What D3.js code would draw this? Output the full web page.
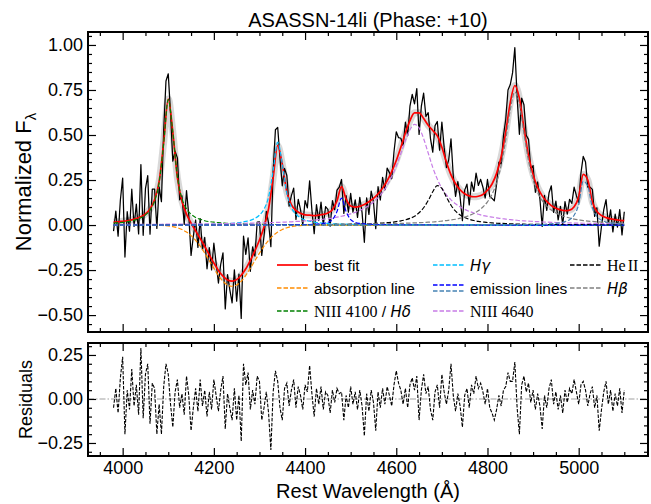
<!DOCTYPE html>
<html><head><meta charset="utf-8">
<script src="https://cdn.jsdelivr.net/npm/d3@7"></script>
<style>
body{margin:0;background:#fff}
svg{display:block}
text{font-family:"Liberation Sans",Arial,Helvetica,sans-serif;fill:#000}
</style>
</head><body>
<svg id="c" width="651" height="504"></svg>
<script>
// ---------------- DATA ----------------
const chartTitle = "ASASSN-14li (Phase: +10)";
const xTickLabels = [4000, 4200, 4400, 4600, 4800, 5000];
const yTickLabels = [-0.50, -0.25, 0.00, 0.25, 0.50, 0.75, 1.00];
const resTickLabels = [-0.25, 0.00, 0.25];

// model grid: 3980..5100 Å every 10 Å
const modelWave = d3.range(3980, 5101, 10);
// observed grid: 3980..5100 Å every 5 Å
const obsWave = d3.range(3980, 5101, 5);

const bestFit = [
 .016,.018,.021,.024,.029,.036,.046,.062,.089,.140,
 .242,.460,.700,.515,.263,.132,.061,.011,-.032,-.075,
 -.119,-.166,-.211,-.252,-.284,-.305,-.312,-.303,-.279,-.243,
 -.196,-.143,-.083,-.011,.091,.263,.442,.338,.185,.113,
 .081,.065,.056,.055,.052,.055,.059,.067,.085,.134,
 .213,.144,.106,.100,.104,.114,.129,.148,.173,.205,
 .246,.297,.358,.432,.511,.580,.623,.623,.592,.554,
 .525,.495,.432,.349,.279,.229,.195,.174,.162,.157,
 .160,.170,.193,.228,.287,.379,.516,.680,.775,.704,
 .538,.386,.280,.209,.162,.131,.108,.093,.084,.080,
 .083,.101,.156,.281,.250,.128,.076,.053,.041,.034,
 .030,.026,.024];

const absorptionLine = [
 0,0,0,0,0,0,0,0,0,-.001,
 -.001,-.003,-.005,-.009,-.015,-.025,-.039,-.059,-.085,-.117,
 -.156,-.198,-.240,-.280,-.312,-.333,-.340,-.333,-.312,-.280,
 -.240,-.198,-.156,-.117,-.085,-.059,-.039,-.025,-.015,-.009,
 -.005,-.003,-.001,-.001,0,0,0,0,0,0,
 0,0,0,0,0,0,0,0,0,0,
 0,0,0,0,0,0,0,0,0,0,
 0,0,0,0,0,0,0,0,0,0,
 0,0,0,0,0,0,0,0,0,0,
 0,0,0,0,0,0,0,0,0,0,
 0,0,0,0,0,0,0,0,0,0,
 0,0,0];

const nIII4100 = [
 .011,.013,.015,.019,.023,.030,.040,.056,.083,.133,
 .236,.455,.697,.515,.269,.148,.090,.060,.042,.032,
 .024,.019,.016,.013,.011,.009,.008,.007,.006,.006,
 .005,.004,.004,.004,.003,.003,.003,.003,.002,.002,
 .002,.002,.002,.002,.002,.002,.002,.001,.001,.001,
 .001,.001,.001,.001,.001,.001,.001,.001,.001,.001,
 .001,.001,.001,.001,.001,.001,.001,.001,.001,.001,
 .001,.001,.001,.001,.001,.001,.001,.001,.001,.001,
 .001,.001,.001,.001,.001,0,0,0,0,0,
 0,0,0,0,0,0,0,0,0,0,
 0,0,0,0,0,0,0,0,0,0,
 0,0,0];

const hGamma = [
 .001,.001,.001,.001,.001,.001,.001,.001,.001,.001,
 .002,.002,.002,.002,.002,.002,.002,.003,.003,.003,
 .004,.004,.005,.006,.007,.008,.010,.012,.015,.020,
 .026,.037,.055,.088,.156,.301,.460,.340,.177,.098,
 .060,.040,.028,.021,.016,.013,.010,.009,.007,.006,
 .005,.005,.004,.004,.003,.003,.003,.003,.002,.002,
 .002,.002,.001,.001,.001,.001,.001,.001,.001,.001,
 .001,.001,.001,.001,.001,.001,.001,.001,.001,.001,
 0,0,0,0,0,0,0,0,0,0,
 0,0,0,0,0,0,0,0,0,0,
 0,0,0,0,0,0,0,0,0,0,
 0,0,0];

const emissionBlue = [
 0,0,0,0,0,0,0,0,0,0,
 0,0,0,0,0,0,0,0,0,0,
 0,0,0,0,0,0,0,0,0,0,
 0,0,0,0,.001,.001,.001,.001,.002,.002,
 .002,.002,.003,.003,.004,.006,.009,.015,.030,.075,
 .150,.075,.030,.015,.009,.006,.004,.003,.002,.002,
 .002,.001,.001,.001,.001,.001,.001,.001,.001,.001,
 0,0,0,0,0,0,0,0,0,0,
 0,0,0,0,0,0,0,0,0,0,
 0,0,0,0,0,0,0,0,0,0,
 0,0,0,0,0,0,0,0,0,0,
 0,0,0];

const emissionSteel = [
 0,0,0,0,0,0,0,0,0,0,
 0,0,0,0,0,0,0,0,0,0,
 0,0,0,0,0,0,0,0,0,0,
 0,0,0,0,0,0,0,0,0,0,
 0,0,0,0,0,0,0,0,0,0,
 0,0,0,0,0,0,0,0,0,0,
 0,0,0,0,0,0,0,0,0,0,
 0,0,0,0,0,0,0,0,0,0,
 .001,.001,.001,.001,.001,.001,.001,.002,.002,.002,
 .002,.003,.003,.004,.004,.005,.007,.009,.013,.019,
 .030,.054,.114,.243,.216,.097,.047,.027,.017,.012,
 .009,.007,.005];

const nIII4640 = [
 .003,.003,.003,.004,.004,.004,.004,.004,.004,.004,
 .004,.005,.005,.005,.005,.005,.005,.006,.006,.006,
 .007,.007,.007,.007,.008,.008,.009,.009,.010,.010,
 .011,.011,.012,.012,.013,.014,.015,.016,.017,.018,
 .020,.021,.023,.025,.027,.030,.032,.036,.039,.044,
 .049,.055,.062,.070,.081,.093,.109,.128,.152,.182,
 .221,.269,.328,.397,.469,.529,.559,.540,.480,.400,
 .320,.255,.205,.168,.140,.118,.100,.087,.076,.067,
 .060,.053,.048,.044,.040,.036,.033,.030,.028,.025,
 .023,.022,.020,.019,.017,.016,.015,.014,.013,.013,
 .012,.011,.011,.010,.010,.009,.009,.008,.008,.008,
 .007,.007,.007];

const heII = [
 0,0,0,0,0,0,0,0,0,0,
 0,0,0,0,0,0,0,0,0,0,
 0,0,0,0,0,0,0,0,0,0,
 0,0,.001,.001,.001,.001,.001,.001,.001,.001,
 .002,.002,.002,.002,.002,.002,.003,.003,.003,.004,
 .004,.004,.005,.005,.006,.006,.007,.008,.010,.011,
 .013,.015,.019,.023,.029,.037,.049,.068,.096,.136,
 .185,.219,.203,.155,.110,.077,.056,.042,.032,.025,
 .020,.017,.014,.012,.010,.009,.008,.007,.006,.005,
 .005,.004,.004,.004,.003,.003,.003,.003,.002,.002,
 .002,.002,.002,.002,.002,.002,.001,.001,.001,.001,
 .001,.001,.001];

const hBeta = [
 .001,.001,.001,.001,.001,.001,.001,.001,.001,.001,
 .001,.001,.001,.001,.001,.001,.001,.001,.001,.001,
 .001,.001,.001,.001,.001,.001,.001,.001,.002,.002,
 .002,.002,.002,.002,.002,.002,.002,.002,.002,.003,
 .003,.003,.003,.003,.003,.003,.003,.003,.004,.004,
 .004,.004,.004,.005,.005,.005,.006,.006,.006,.007,
 .007,.008,.008,.009,.010,.011,.012,.013,.014,.016,
 .017,.019,.022,.025,.028,.032,.038,.044,.053,.064,
 .079,.100,.129,.171,.236,.332,.474,.641,.739,.671,
 .507,.357,.252,.182,.136,.105,.083,.067,.055,.046,
 .039,.033,.029,.025,.022,.020,.018,.016,.014,.013,
 .012,.011,.010];

const observedFlux = [
 -.034,.077,-.062,.139,.261,-.178,.074,-.034,.199,-.008,.116,-.049,.336,-.057,.202,.274,-.051,.200,.200,-.019,
 .212,.130,.530,.800,.840,.620,.355,.410,.373,.140,.162,.003,.191,.055,-.169,-.061,.028,-.124,.035,-.137,
 -.069,-.243,-.126,-.249,-.101,-.212,-.322,-.219,-.154,-.466,-.275,-.360,-.432,-.249,-.423,-.272,-.519,-.062,-.163,-.071,
 -.257,-.121,-.173,.016,.017,-.169,-.061,.076,.011,-.120,.303,.529,.542,.370,.218,.315,.275,.105,.163,.205,
 .031,.142,.085,.000,.136,.095,.245,.083,-.048,.113,.025,.127,-.001,.102,.087,-.006,.135,.085,.194,.210,
 .253,.065,.164,.072,.176,.072,.140,.042,.154,.069,-.096,.151,.059,.188,.128,-.020,.213,.139,.265,.195,
 .316,.291,.257,.407,.518,.485,.482,.442,.571,.497,.660,.725,.673,.758,.503,.660,.732,.603,.624,.480,
 .405,.552,.575,.416,.572,.431,.319,.362,.479,.272,.159,.241,.155,.024,.194,.227,.112,.239,.187,.288,
 .220,.254,.210,.150,.253,.159,.148,.135,.227,.350,.339,.495,.586,.750,.780,.845,.985,.710,.504,.705,
 .668,.498,.476,.310,.330,.182,.239,.144,-.008,.165,.081,.179,.218,.070,.133,.028,.104,.001,.130,.061,
 .143,.120,.211,.163,.126,.290,.381,.350,.210,.210,.198,.048,.096,-.117,-.007,.086,.141,.007,.084,-.038,
 .060,-.012,.086,-.055,.074];

const residuals = [
 -.05,.06,-.08,.12,.24,-.20,.05,-.06,.17,-.04,.08,-.09,.29,-.11,.14,.20,-.14,.09,.06,-.20,
 -.03,-.20,.07,.20,.14,-.03,-.16,.04,.11,-.05,.03,-.09,.13,.02,-.18,-.05,.06,-.07,.11,-.04,
 .05,-.10,.04,-.06,.11,.02,-.07,.05,.13,-.17,.03,-.05,-.12,.06,-.12,.02,-.24,.20,.08,.15,
 -.06,.05,-.03,.13,.10,-.12,-.05,.04,-.08,-.29,.04,.16,.10,-.05,-.12,.06,.09,-.04,.05,.11,
 -.05,.07,.02,-.06,.08,.04,.19,.03,-.10,.06,-.03,.07,-.06,.04,.02,-.08,.05,-.02,.06,.03,
 .04,-.12,.02,-.05,.07,-.03,.04,-.06,.05,-.04,-.21,.03,-.07,.05,-.02,-.18,.04,-.05,.06,-.03,
 .07,.02,-.04,.08,.16,.09,.05,-.03,.06,-.05,.08,.12,.05,.13,-.12,.05,.14,.03,.07,-.06,
 -.12,.04,.08,-.05,.14,.04,-.03,.05,.20,.02,-.07,.03,-.04,-.16,.02,.06,-.05,.08,.03,.13,
 .06,.09,.04,-.03,.06,-.05,-.08,-.12,-.06,.02,-.04,.05,.07,.15,.10,.10,.21,-.05,-.20,.08,
 .13,.04,.09,-.02,.05,-.06,.03,-.04,-.17,.02,-.05,.06,.11,-.03,.04,-.06,.02,-.08,.05,-.02,
 .06,.03,.11,.04,-.03,.08,.10,.05,-.04,.03,.07,-.05,.02,-.18,-.06,.04,.10,-.03,.05,-.07,
 .03,-.04,.06,-.08,.05];

// ---------------- DRAWING ----------------
const svg = d3.select("#c");
const L = 88, R = 648, T1 = 32, B1 = 332, T2 = 343, B2 = 456;
const x = d3.scaleLinear().domain([3924, 5152]).range([L, R]);
const y = d3.scaleLinear().domain([-0.594, 1.072]).range([B1, T1]);
const yr = d3.scaleLinear().domain([-0.324, 0.318]).range([B2, T2]);

const defs = svg.append("defs");
defs.append("clipPath").attr("id","clipMain").append("rect")
  .attr("x",L).attr("y",T1).attr("width",R-L).attr("height",B1-T1);
defs.append("clipPath").attr("id","clipRes").append("rect")
  .attr("x",L).attr("y",T2).attr("width",R-L).attr("height",B2-T2);

const main = svg.append("g").attr("clip-path","url(#clipMain)");
const res = svg.append("g").attr("clip-path","url(#clipRes)");

const modelLine = d3.line().x((d,i)=>x(modelWave[i])).y(d=>y(d)).curve(d3.curveMonotoneX);
const obsLine = d3.line().x((d,i)=>x(obsWave[i])).y(d=>y(d));
const resLine = d3.line().x((d,i)=>x(obsWave[i])).y(d=>yr(d));

// posterior band
main.append("path").attr("d", modelLine(bestFit)).attr("fill","none")
  .attr("stroke","#b8b8b8").attr("stroke-opacity",0.55).attr("stroke-width",7)
  .attr("stroke-linejoin","round");
// observed spectrum
main.append("path").attr("d", obsLine(observedFlux)).attr("fill","none")
  .attr("stroke","#000").attr("stroke-width",1.25).attr("stroke-linejoin","round");
// best fit
main.append("path").attr("d", modelLine(bestFit)).attr("fill","none")
  .attr("stroke","#ff0000").attr("stroke-width",1.7);

const comps = [
  {data: absorptionLine, color: "#ff8c00"},
  {data: nIII4100, color: "#008000"},
  {data: hGamma, color: "#00bfff"},
  {data: nIII4640, color: "#c77ce6"},
  {data: heII, color: "#000000"},
  {data: hBeta, color: "#808080"},
  {data: emissionBlue, color: "#0000ff"},
  {data: emissionSteel, color: "#4682b4"}
];
comps.forEach(c => {
  main.append("path").attr("d", modelLine(c.data)).attr("fill","none")
    .attr("stroke", c.color).attr("stroke-width",1.2).attr("stroke-dasharray","4.5,2");
});

// residual panel
res.append("line").attr("x1",L).attr("x2",R).attr("y1",yr(0)).attr("y2",yr(0))
  .attr("stroke","#a0a0a0").attr("stroke-width",1.1).attr("stroke-dasharray","6,2,1.5,2");
res.append("path").attr("d", resLine(residuals)).attr("fill","none")
  .attr("stroke","#000").attr("stroke-width",1.1).attr("stroke-dasharray","3.5,1.5");

// axes helpers
const fmt = d => (d < 0 ? "\u2212" : "") + Math.abs(d).toFixed(2);
const xMinor = d3.range(3950, 5151, 50).filter(v => v % 200 !== 0);
const yMinor = d3.range(-55, 106, 5).filter(v => v % 25 !== 0).map(v => v/100);
const rMinor = d3.range(-30, 31, 5).filter(v => v % 25 !== 0).map(v => v/100);

function styleAxis(g, fs){
  g.select(".domain").remove();
  g.selectAll(".tick line").attr("stroke","#000").attr("stroke-width",1.2);
  g.selectAll("text").attr("font-size",fs).attr("font-family",'"Liberation Sans",Arial,sans-serif').attr("fill","#000");
}
function panelAxes(ys, top, bottom, majors, minors, showX){
  // bottom
  let g = svg.append("g").attr("transform",`translate(0,${bottom})`)
    .call(d3.axisBottom(x).tickValues(xMinor).tickSize(-4).tickFormat(""));
  styleAxis(g, 18);
  g = svg.append("g").attr("transform",`translate(0,${bottom})`)
    .call(d3.axisBottom(x).tickValues(xTickLabels).tickSize(-8).tickPadding(5)
      .tickFormat(showX ? d3.format("d") : ""));
  styleAxis(g, 18);
  // top
  g = svg.append("g").attr("transform",`translate(0,${top})`)
    .call(d3.axisTop(x).tickValues(xMinor).tickSize(-4).tickFormat(""));
  styleAxis(g, 18);
  g = svg.append("g").attr("transform",`translate(0,${top})`)
    .call(d3.axisTop(x).tickValues(xTickLabels).tickSize(-8).tickFormat(""));
  styleAxis(g, 18);
  // left
  g = svg.append("g").attr("transform",`translate(${L},0)`)
    .call(d3.axisLeft(ys).tickValues(minors).tickSize(-4).tickFormat(""));
  styleAxis(g, 18);
  g = svg.append("g").attr("transform",`translate(${L},0)`)
    .call(d3.axisLeft(ys).tickValues(majors).tickSize(-8).tickPadding(5).tickFormat(fmt));
  styleAxis(g, 18);
  // right
  g = svg.append("g").attr("transform",`translate(${R},0)`)
    .call(d3.axisRight(ys).tickValues(minors).tickSize(-4).tickFormat(""));
  styleAxis(g, 18);
  g = svg.append("g").attr("transform",`translate(${R},0)`)
    .call(d3.axisRight(ys).tickValues(majors).tickSize(-8).tickFormat(""));
  styleAxis(g, 18);
  // frame
  svg.append("rect").attr("x",L).attr("y",top).attr("width",R-L).attr("height",bottom-top)
    .attr("fill","none").attr("stroke","#000").attr("stroke-width",2);
}
panelAxes(y, T1, B1, yTickLabels, yMinor, false);
panelAxes(yr, T2, B2, resTickLabels, rMinor, true);

// titles & labels
svg.append("text").attr("x",(L+R)/2).attr("y",27).attr("text-anchor","middle")
  .attr("font-size",20).text(chartTitle);
svg.append("text").attr("x",(L+R)/2).attr("y",498).attr("text-anchor","middle")
  .attr("font-size",20).text("Rest Wavelength (\u00C5)");
const yl = svg.append("text").attr("transform","translate(31,182) rotate(-90)")
  .attr("text-anchor","middle").attr("font-size",22);
yl.append("tspan").text("Normalized F");
yl.append("tspan").attr("font-size",15).attr("dy",5).text("\u03BB");
svg.append("text").attr("transform",`translate(32,${(T2+B2)/2}) rotate(-90)`)
  .attr("text-anchor","middle").attr("font-size",18).text("Residuals");

// legend
const legendLabels = [
  {col:0,row:0,color:"#ff0000",solid:true,parts:[["best fit","sans",""]]},
  {col:0,row:1,color:"#ff8c00",parts:[["absorption line","sans",""]]},
  {col:0,row:2,color:"#008000",parts:[["NIII 4100","serif",""],[" / ","sans",""],["H\u03B4","sansI",""]]},
  {col:1,row:0,color:"#00bfff",parts:[["H\u03B3","sansI",""]]},
  {col:1,row:1,color:"#0000ff",color2:"#4682b4",parts:[["emission lines","sans",""]]},
  {col:1,row:2,color:"#c77ce6",parts:[["NIII 4640","serif",""]]},
  {col:2,row:0,color:"#000000",parts:[["He","serif",""],["II","serifgap",""]]},
  {col:2,row:1,color:"#808080",parts:[["H\u03B2","sansI",""]]}
];
const colX = [277, 433, 570];
const rowY = [265, 288, 311];
legendLabels.forEach(it => {
  const x0 = colX[it.col], yy = rowY[it.row];
  if (it.color2) {
    svg.append("line").attr("x1",x0).attr("x2",x0+31).attr("y1",yy-3).attr("y2",yy-3)
      .attr("stroke",it.color).attr("stroke-width",1.3).attr("stroke-dasharray","4.5,2");
    svg.append("line").attr("x1",x0).attr("x2",x0+31).attr("y1",yy+3).attr("y2",yy+3)
      .attr("stroke",it.color2).attr("stroke-width",1.3).attr("stroke-dasharray","4.5,2");
  } else {
    svg.append("line").attr("x1",x0).attr("x2",x0+31).attr("y1",yy).attr("y2",yy)
      .attr("stroke",it.color).attr("stroke-width",it.solid?1.7:1.3)
      .attr("stroke-dasharray",it.solid?null:"4.5,2");
  }
  const t = svg.append("text").attr("x",x0+37).attr("y",yy+5.5).attr("font-size",15.5);
  it.parts.forEach(p => {
    const s = t.append("tspan").text(p[0]);
    if (p[1]==="serif" || p[1]==="serifgap") s.attr("font-family",'"Liberation Serif","Times New Roman",serif').attr("font-size",16);
    if (p[1]==="serifgap") s.attr("dx",2);
    if (p[1]==="sansI") s.attr("font-family",'"DejaVu Sans",sans-serif').attr("font-style","italic").attr("font-size",15);
  });
});
</script>
</body></html>
